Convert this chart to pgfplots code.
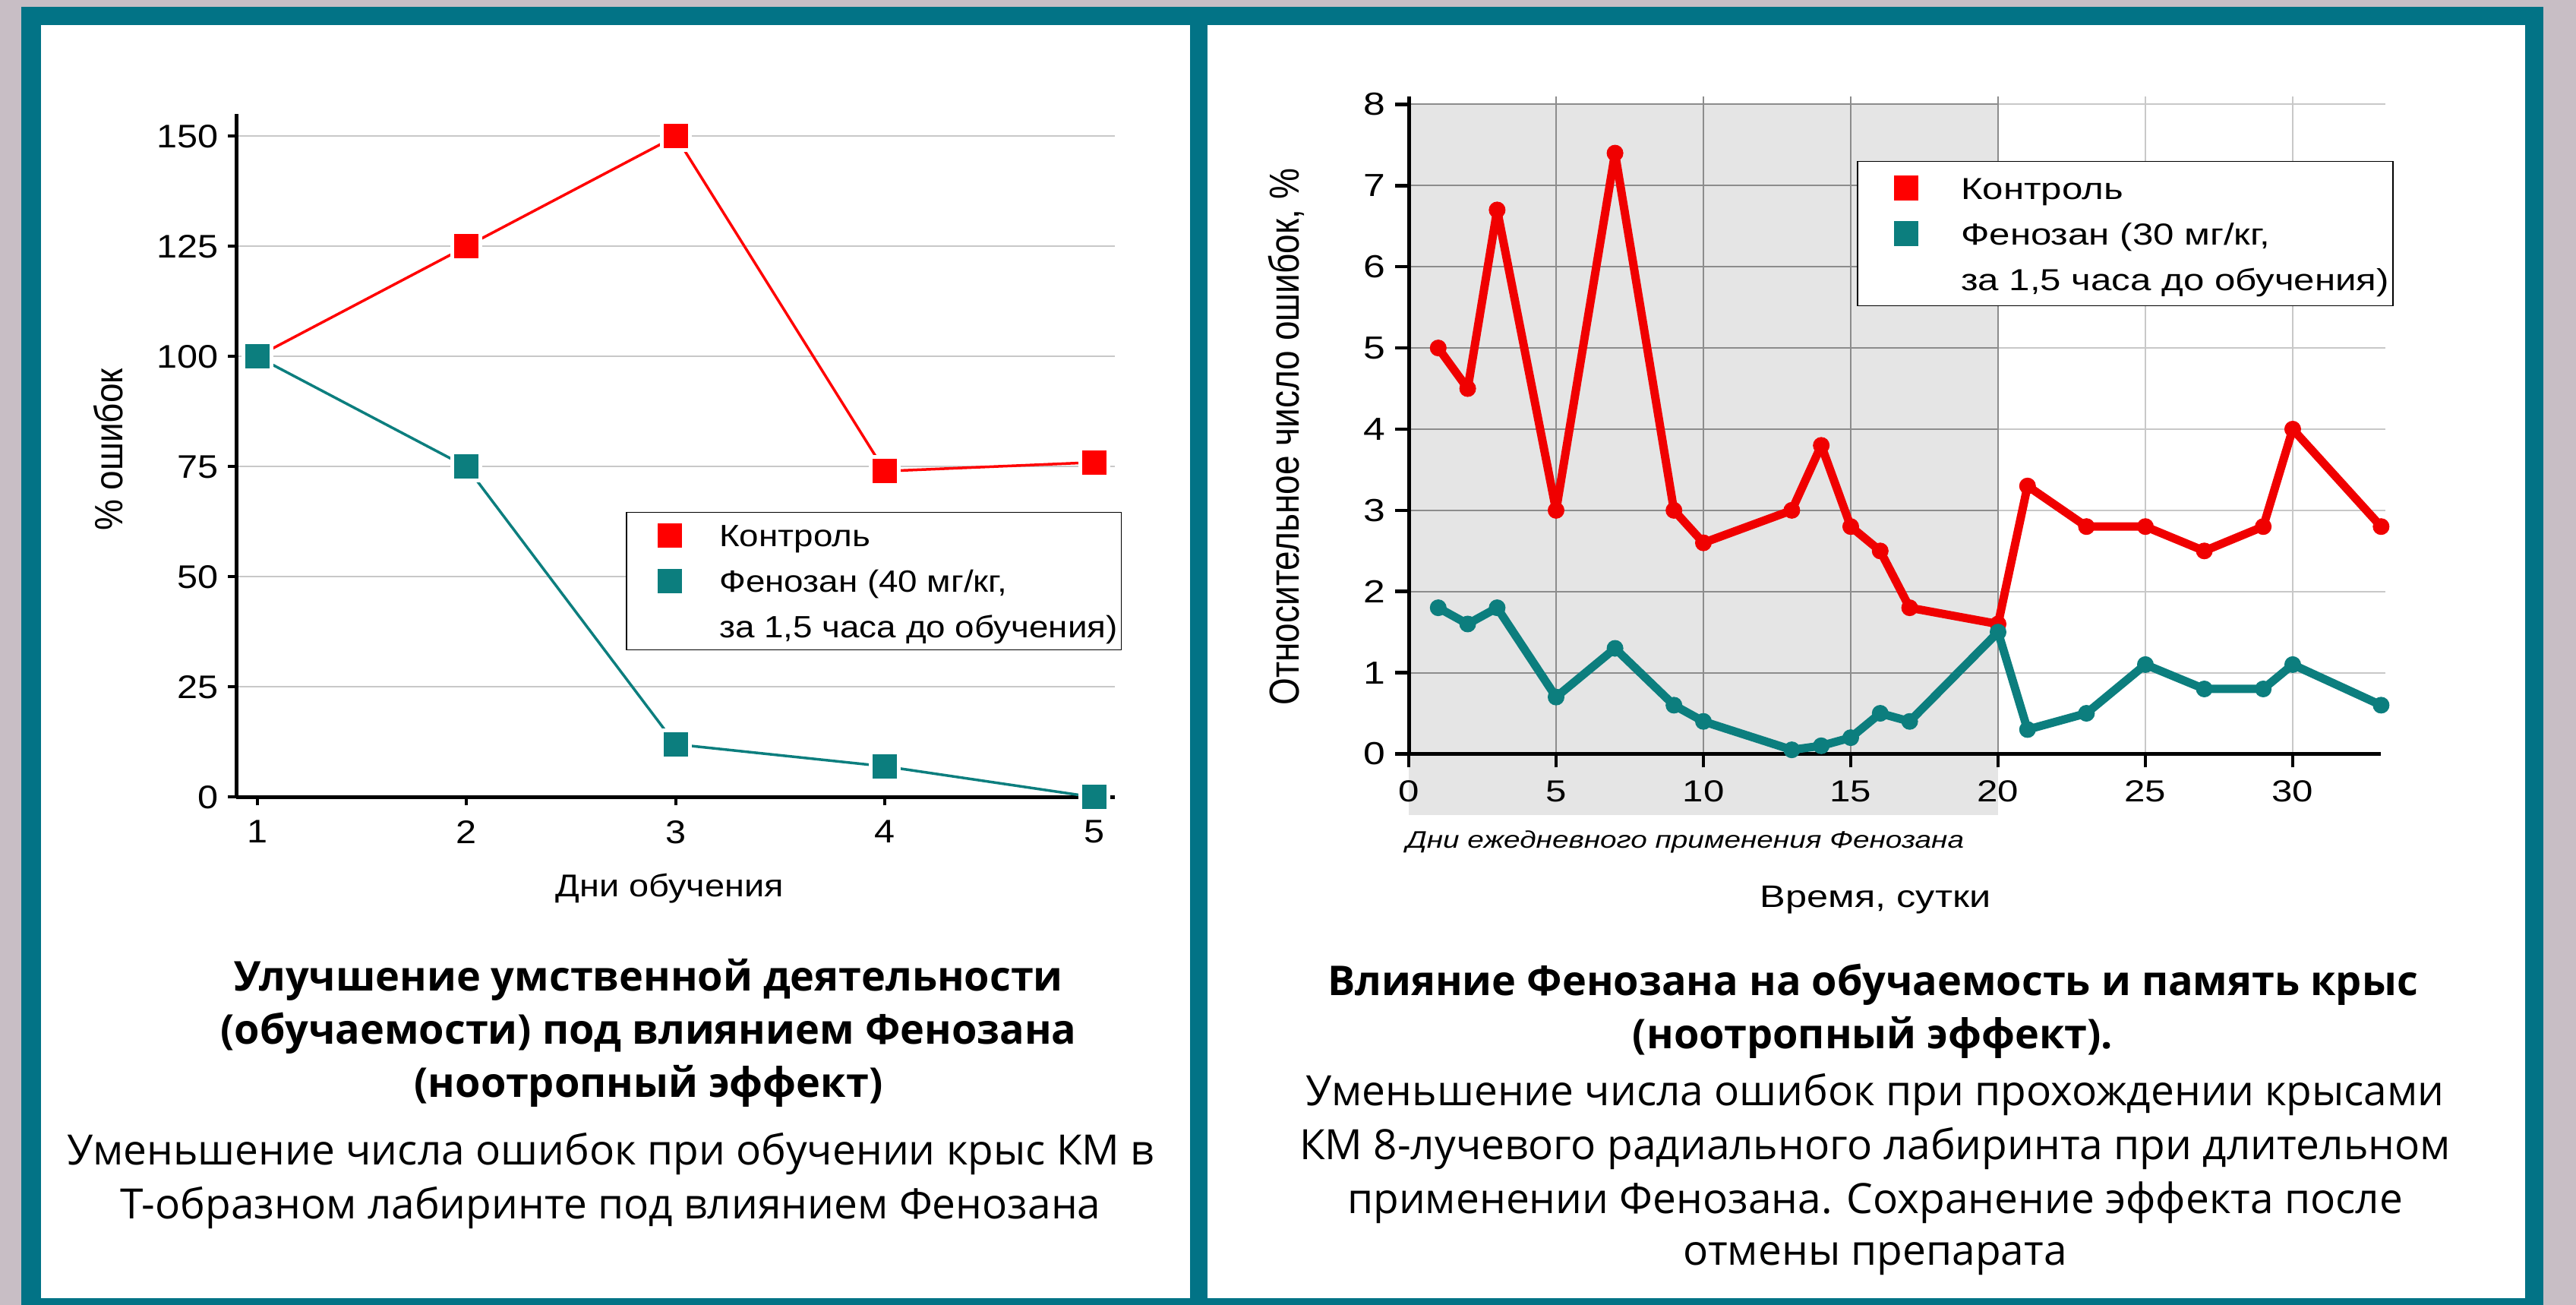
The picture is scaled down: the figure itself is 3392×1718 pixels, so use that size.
\documentclass[border=0pt]{standalone}
\usepackage{fontspec}
\setmainfont{Liberation Sans}
\newfontfamily\osans{Open Sans}
\newfontfamily\lsw[FakeStretch=1.13]{Liberation Sans}
\newfontfamily\lswb[FakeStretch=1.23]{Liberation Sans}
\usepackage{pgfplots}
\pgfplotsset{compat=1.18}
\definecolor{bgc}{RGB}{200,190,197}
\definecolor{framec}{RGB}{2,115,134}
\definecolor{cred}{RGB}{255,0,0}
\definecolor{credb}{RGB}{240,0,0}
\definecolor{cteal}{RGB}{12,126,126}
\definecolor{gridl}{RGB}{200,200,200}
\definecolor{gridd}{RGB}{140,140,140}
\definecolor{shadec}{RGB}{229,229,229}
\begin{document}
\begin{tikzpicture}[x=1pt,y=1pt]
\useasboundingbox (0pt,0pt) rectangle (3392pt,1718pt);
\fill[bgc] (0pt,0pt) rectangle (3392pt,1718pt);
\fill[framec] (28pt,0pt) rectangle (3349pt,1709pt);
\fill[white] (54pt,9pt) rectangle (1567pt,1685pt);
\fill[white] (1590pt,9pt) rectangle (3325pt,1685pt);

% ---------------- left chart ----------------
\begin{axis}[
  at={(311pt,668.5pt)}, anchor=south west, scale only axis,
  width=1157.5pt, height=899pt,
  xmin=0.9, xmax=5.1, ymin=0, ymax=155,
  axis x line=bottom, axis y line=left,
  axis line style={-, line width=5pt, black},
  xtick={1,2,3,4,5}, ytick={0,25,50,75,100,125,150},
  tick align=outside, major tick length=11pt,
  tick style={line width=4pt, black},
  ymajorgrids, grid style={gridl, line width=2pt},
  tick label style={font=\lsw\fontsize{43}{52}\selectfont},
  xticklabel style={yshift=-16pt},
  yticklabel style={xshift=-9pt},
  /pgf/number format/assume math mode=true,
  ylabel={\% ошибок}, xlabel={Дни обучения},
  ylabel style={font=\fontsize{46}{55}\selectfont, at={(axis description cs:-0.1451,0.509)}, anchor=center, yscale=1.13},
  xlabel style={font=\lsw\fontsize{41.5}{50}\selectfont, at={(axis description cs:0.493,-0.134)}, anchor=center},
  legend style={at={(axis description cs:0.4432,0.4178)}, anchor=north west,
    draw=black, line width=1.5pt, font=\lsw\fontsize{40.5}{49}\selectfont,
    inner xsep=5pt, inner ysep=7pt, row sep=13pt, column sep=49pt,
    nodes={inner sep=0pt, text height=38pt, text depth=9pt}},
  legend cell align=left,
]
\addplot[cred, line width=3.5pt, mark=square*, mark size=18.5pt,
  mark options={draw=white, line width=5pt, fill=cred}, forget plot]
  coordinates {(1,100) (2,125) (3,150) (4,74) (5,76)};
\addplot[cteal, line width=3.5pt, mark=square*, mark size=18.5pt,
  mark options={draw=white, line width=5pt, fill=cteal}, forget plot]
  coordinates {(1,100) (2,75) (3,12) (4,7) (5,0)};
\addlegendimage{legend image code/.code={\path (0pt,0pt); \fill[cred] (36pt,-15.5pt) rectangle (67pt,15.5pt);}}
\addlegendentry{Контроль}
\addlegendimage{legend image code/.code={\path (0pt,0pt); \fill[cteal] (36pt,-15.5pt) rectangle (67pt,15.5pt);}}
\addlegendentry{Фенозан (40 мг/кг,}
\addlegendimage{empty legend}
\addlegendentry{за 1,5 часа до обучения)}
\end{axis}

% ---------------- right chart: background ----------------
\begin{axis}[
  at={(1855pt,725.5pt)}, anchor=south west, scale only axis,
  width=1280.4pt, height=865.7pt,
  xmin=0, xmax=33, ymin=0, ymax=8.1,
  hide axis, clip=false]
\fill[shadec] (axis cs:0,-0.753) rectangle (axis cs:20,8);
\pgfplotsinvokeforeach{1,...,8}{
  \draw[gridd, line width=2pt] (axis cs:0,#1) -- (axis cs:20,#1);
  \draw[gridl, line width=2pt] (axis cs:20,#1) -- (axis cs:33.15,#1);
}
\pgfplotsinvokeforeach{5,10,15,20}{
  \draw[gridd, line width=2pt] (axis cs:#1,0) -- (axis cs:#1,8.1);
}
\pgfplotsinvokeforeach{25,30}{
  \draw[gridl, line width=2pt] (axis cs:#1,0) -- (axis cs:#1,8.1);
}
\node[anchor=base west, font=\lswb\itshape\fontsize{31.5}{38}\selectfont] at (axis description cs:-0.0055,-0.1438) {Дни ежедневного применения Фенозана};
\end{axis}

% ---------------- right chart: data ----------------
\begin{axis}[
  at={(1855pt,725.5pt)}, anchor=south west, scale only axis,
  width=1280.4pt, height=865.7pt,
  xmin=0, xmax=33, ymin=0, ymax=8.1,
  axis x line=bottom, axis y line=left,
  axis line style={-, line width=5pt, black},
  xtick={0,5,10,15,20,25,30}, ytick={0,1,2,3,4,5,6,7,8},
  tick align=outside, major tick length=18pt,
  tick style={line width=4.5pt, black},
  xticklabel style={font=\lswb\fontsize{40}{48}\selectfont, yshift=-14pt},
  yticklabel style={font=\lswb\fontsize{42}{50}\selectfont, xshift=-9pt},
  /pgf/number format/assume math mode=true,
  ylabel={Относительное число ошибок, \%}, xlabel={Время, сутки},
  ylabel style={font=\fontsize{46}{55}\selectfont, at={(axis description cs:-0.1257,0.482)}, anchor=center, yscale=1.2},
  xlabel style={font=\lswb\fontsize{41}{49}\selectfont, at={(axis description cs:0.48,-0.2224)}, anchor=center},
  legend style={at={(axis description cs:0.4608,0.9016)}, anchor=north west,
    draw=black, line width=1.5pt, font=\lswb\fontsize{40}{48}\selectfont,
    inner xsep=5pt, inner ysep=10pt, row sep=10pt, column sep=56pt,
    nodes={inner sep=0pt, text height=40pt, text depth=10pt}},
  legend cell align=left,
]
\addplot[credb, line width=11pt, line join=round, mark=*, mark size=10.5pt,
  mark options={line width=1pt}, forget plot]
  coordinates {(1,5.0) (2,4.5) (3,6.7) (5,3.0) (7,7.4) (9,3.0) (10,2.6) (13,3.0) (14,3.8) (15,2.8) (16,2.5) (17,1.8) (20,1.6) (21,3.3) (23,2.8) (25,2.8) (27,2.5) (29,2.8) (30,4.0) (33,2.8)};
\addplot[cteal, line width=11pt, line join=round, mark=*, mark size=10.5pt,
  mark options={line width=1pt}, forget plot]
  coordinates {(1,1.8) (2,1.6) (3,1.8) (5,0.7) (7,1.3) (9,0.6) (10,0.4) (13,0.05) (14,0.1) (15,0.2) (16,0.5) (17,0.4) (20,1.5) (21,0.3) (23,0.5) (25,1.1) (27,0.8) (29,0.8) (30,1.1) (33,0.6)};
\addlegendimage{legend image code/.code={\path (0pt,0pt); \fill[cred] (43pt,-15.5pt) rectangle (74pt,15.5pt);}}
\addlegendentry{Контроль}
\addlegendimage{legend image code/.code={\path (0pt,0pt); \fill[cteal] (43pt,-15.5pt) rectangle (74pt,15.5pt);}}
\addlegendentry{Фенозан (30 мг/кг,}
\addlegendimage{empty legend}
\addlegendentry{за 1,5 часа до обучения)}
\end{axis}

% ---------------- captions ----------------
\begin{scope}[font=\osans\bfseries\fontsize{54}{65}\selectfont]
\node[anchor=base] at (854pt,413pt) {Улучшение умственной деятельности};
\node[anchor=base] at (854pt,343pt) {(обучаемости) под влиянием Фенозана};
\node[anchor=base] at (854pt,273pt) {(ноотропный эффект)};
\node[anchor=base] at (2466pt,407pt) {Влияние Фенозана на обучаемость и память крыс};
\node[anchor=base] at (2466pt,337pt) {(ноотропный эффект).};
\end{scope}
\begin{scope}[font=\osans\fontsize{55}{66}\selectfont]
\node[anchor=base] at (804pt,184pt) {Уменьшение числа ошибок при обучении крыс КМ в};
\node[anchor=base] at (804pt,113pt) {Т-образном лабиринте под влиянием Фенозана};
\node[anchor=base] at (2469pt,262pt) {Уменьшение числа ошибок при прохождении крысами};
\node[anchor=base] at (2469pt,191pt) {КМ 8-лучевого радиального лабиринта при длительном};
\node[anchor=base] at (2469pt,120pt) {применении Фенозана. Сохранение эффекта после};
\node[anchor=base] at (2469pt,52pt) {отмены препарата};
\end{scope}
\end{tikzpicture}
\end{document}
